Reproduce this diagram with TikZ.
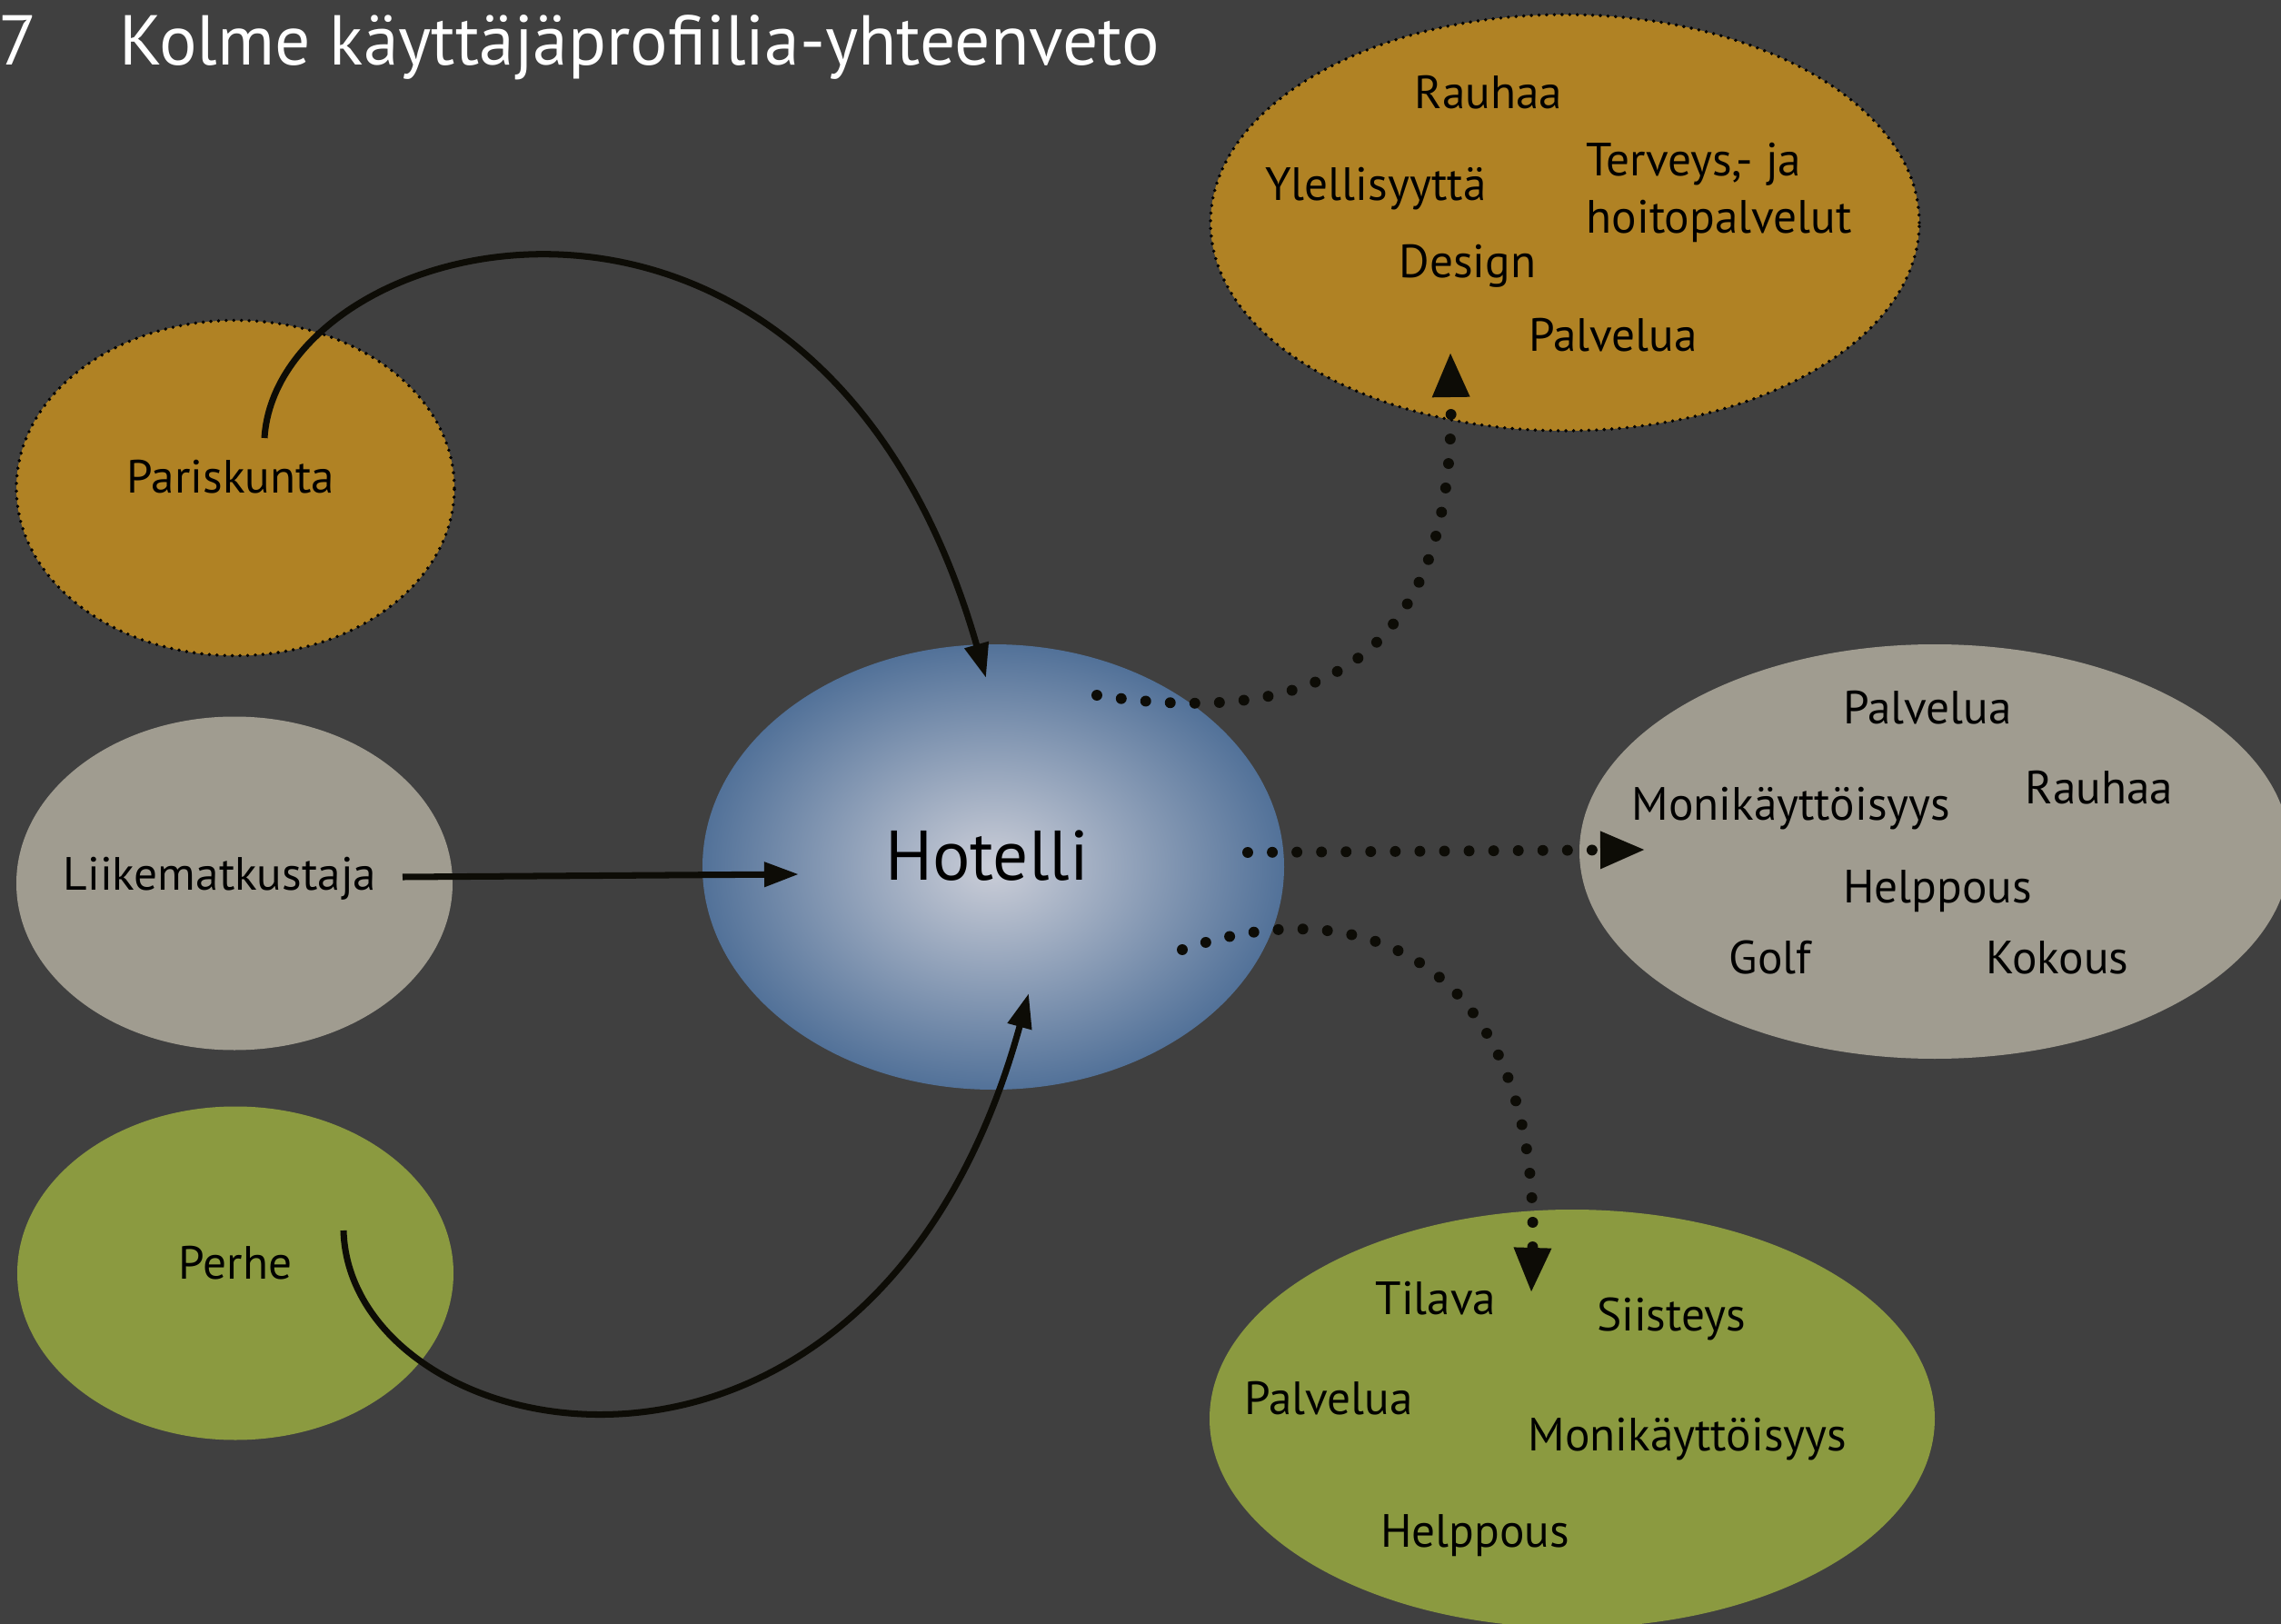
\documentclass[tikz,border=0pt]{standalone}
\usepackage{fontspec}
\setmainfont{PT Sans}
\usetikzlibrary{shapes.geometric,arrows.meta}
\definecolor{tausta}{HTML}{404040}
\definecolor{kulta}{HTML}{B08224}
\definecolor{harmaa}{HTML}{A09C90}
\definecolor{oliivi}{HTML}{8B9A40}
\definecolor{hsisa}{HTML}{CBCED8}
\definecolor{hulko}{HTML}{3A5F8C}
\definecolor{nuolivari}{HTML}{0D0C06}
\pgfdeclareradialshading{hotellivari}{\pgfpoint{0bp}{0bp}}{color(0bp)=(hsisa); color(30bp)=(hulko); color(72bp)=(hulko)}
\tikzset{
    profiilinode/.style = {
        ellipse,
        inner sep=0pt,
        minimum width=4.8cm,
        minimum height=3.67cm
    },
    kultanode/.style = {
        profiilinode,
        fill=kulta,
        draw=black,
        line width=1.1pt,
        line cap=round,
        dash pattern=on 0pt off 2.4pt
    },
    harmaanode/.style = {
        profiilinode,
        fill=harmaa
    },
    oliivinode/.style = {
        profiilinode,
        fill=oliivi
    },
    hotellinode/.style = {
        ellipse,
        shade,
        shading=hotellivari,
        minimum width=6.4cm,
        minimum height=4.9cm
    },
    sananode/.style = {
        anchor=base,
        inner sep=0pt,
        text=black,
        font=\fontsize{14.6}{18}\selectfont
    },
    isosananode/.style = {
        sananode,
        font=\fontsize{22}{26}\selectfont
    },
    otsikkonode/.style = {
        inner sep=0pt,
        text=white,
        font=\fontsize{22.1}{26}\selectfont
    },
    nuoli/.style = {
        draw=nuolivari,
        line width=2pt,
        -{Triangle[length=0.38cm,width=0.26cm]}
    },
    pistenuoli/.style = {
        draw=nuolivari,
        line width=3.4pt,
        line cap=round,
        dash pattern=on 0pt off 7.7pt,
        -{Triangle[length=0.5cm,width=0.38cm]}
    }
}
\begin{document}
\begin{tikzpicture}
    \clip (0,0) rectangle (25.10,-17.87);
    \fill[tausta] (0,0) rectangle (25.10,-17.87);

    \node [otsikkonode, anchor=base east] (numero) at (0.42,-0.72) {7};
    \node [otsikkonode, anchor=base west] (otsikko) at (1.31,-0.72) {Kolme käyttäjäprofiilia-yhteenveto};

    \node [kultanode, minimum width=4.82cm, minimum height=3.69cm] (pari) at (2.59,-5.37) {};
    \node [harmaanode] (liike) at (2.58,-9.72) {};
    \node [oliivinode] (perhe) at (2.59,-14.01) {};
    \node [hotellinode] (hotelli) at (10.93,-9.54) {};

    \node [kultanode, minimum width=7.8cm, minimum height=4.58cm] (ylaprofiili) at (17.22,-2.45) {};
    \node [harmaanode, minimum width=7.82cm, minimum height=4.56cm] (oikprofiili) at (21.29,-9.37) {};
    \node [oliivinode, minimum width=7.98cm, minimum height=4.6cm] (alaprofiili) at (17.30,-15.61) {};

    \node [sananode] (paritxt) at (2.54,-5.42) {Pariskunta};
    \node [sananode] (liiketxt) at (2.42,-9.79) {Liikematkustaja};
    \node [sananode] (perhetxt) at (2.59,-14.07) {Perhe};
    \node [isosananode] (hotellitxt) at (10.86,-9.68) {Hotelli};

    \node [sananode] (yla1) at (16.38,-1.20) {Rauhaa};
    \node [sananode] (yla2) at (15.14,-2.21) {Ylellisyyttä};
    \node [sananode, anchor=west, align=left] (yla3) at (17.45,-2.12) {Terveys,- ja\\hoitopalvelut};
    \node [sananode] (yla4) at (16.15,-3.06) {Design};
    \node [sananode] (yla5) at (17.75,-3.86) {Palvelua};

    \node [sananode] (oik1) at (21.21,-7.96) {Palvelua};
    \node [sananode] (oik2) at (19.71,-9.02) {Monikäyttöisyys};
    \node [sananode] (oik3) at (23.10,-8.84) {Rauhaa};
    \node [sananode] (oik4) at (21.32,-9.93) {Helppous};
    \node [sananode] (oik5) at (19.48,-10.71) {Golf};
    \node [sananode] (oik6) at (22.64,-10.71) {Kokous};

    \node [sananode] (ala1) at (15.80,-14.46) {Tilava};
    \node [sananode] (ala2) at (18.39,-14.64) {Siisteys};
    \node [sananode] (ala3) at (14.62,-15.56) {Palvelua};
    \node [sananode] (ala4) at (18.57,-15.96) {Monikäyttöisyys};
    \node [sananode] (ala5) at (16.23,-17.02) {Helppous};

    \coordinate (parialku) at (2.91,-4.82);
    \coordinate (liikealku) at (4.43,-9.65);
    \coordinate (perhealku) at (3.78,-13.54);
    \coordinate (hotelliyla) at (10.85,-7.46);
    \coordinate (hotellivasen) at (8.79,-9.62);
    \coordinate (hotelliala) at (11.32,-10.93);
    \coordinate (hotelli1) at (12.07,-7.65);
    \coordinate (hotelli2) at (13.73,-9.38);
    \coordinate (hotelli3) at (13.01,-10.45);
    \coordinate (ylakohde) at (15.96,-3.87);
    \coordinate (oikkohde) at (18.11,-9.35);
    \coordinate (alakohde) at (16.85,-14.23);

    \draw [nuoli] (parialku) .. controls (3.05,-2.50) and (9.00,-1.00) .. (hotelliyla);
    \draw [nuoli] (liikealku) -- (hotellivasen);
    \draw [nuoli] (perhealku) .. controls (3.85,-16.00) and (9.60,-17.20) .. (hotelliala);
    \draw [pistenuoli] (hotelli1) .. controls (15.00,-8.10) and (16.00,-6.80) .. (ylakohde);
    \draw [pistenuoli] (hotelli2) -- (oikkohde);
    \draw [pistenuoli] (hotelli3) .. controls (15.20,-9.70) and (16.95,-10.80) .. (alakohde);
\end{tikzpicture}
\end{document}
